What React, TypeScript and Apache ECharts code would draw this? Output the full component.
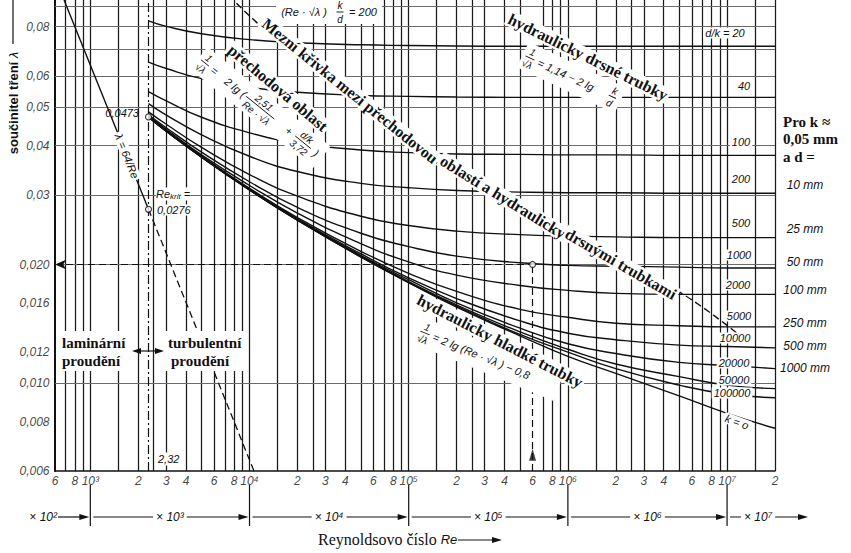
import React, { useEffect, useRef } from 'react';
import * as echarts from 'echarts';

const RE_MIN = 600;
const RE_MAX = 2e7;
const LAMBDA_MIN = 0.006;
const LAMBDA_MAX = 0.0935;

const reSamples = [2320, 3000, 5000, 10000, 20000, 50000, 100000, 200000, 500000, 1000000, 2000000, 5000000, 10000000, 20000000];

// friction factor λ read for each relative roughness d/k
const lambdaDk20 = [0.0828, 0.0802, 0.0768, 0.0742, 0.0729, 0.072, 0.0717, 0.0715, 0.0714, 0.0714, 0.0714, 0.0714, 0.0714, 0.0714];
const lambdaDk40 = [0.0651, 0.0627, 0.0591, 0.0562, 0.0546, 0.0536, 0.0533, 0.0531, 0.053, 0.053, 0.053, 0.053, 0.053, 0.053];
const lambdaDk100 = [0.0548, 0.0519, 0.0472, 0.0431, 0.0406, 0.039, 0.0384, 0.0381, 0.038, 0.0379, 0.0379, 0.0378, 0.0378, 0.0378];
const lambdaDk200 = [0.0511, 0.0478, 0.0426, 0.0376, 0.0344, 0.0321, 0.0313, 0.0308, 0.0305, 0.0304, 0.0304, 0.0303, 0.0303, 0.0303];
const lambdaDk500 = [0.0487, 0.0453, 0.0396, 0.0338, 0.0298, 0.0265, 0.0251, 0.0243, 0.0238, 0.0236, 0.0235, 0.0234, 0.0234, 0.0234];
const lambdaDk1000 = [0.0479, 0.0444, 0.0385, 0.0324, 0.0279, 0.024, 0.0222, 0.021, 0.0202, 0.0199, 0.0198, 0.0197, 0.0196, 0.0196];
const lambdaDk2000 = [0.0475, 0.044, 0.0379, 0.0317, 0.027, 0.0226, 0.0203, 0.0188, 0.0177, 0.0172, 0.0169, 0.0168, 0.0168, 0.0168];
const lambdaDk5000 = [0.0474, 0.0437, 0.0376, 0.0312, 0.0263, 0.0216, 0.019, 0.0171, 0.0154, 0.0147, 0.0142, 0.014, 0.0139, 0.0139];
const lambdaDk10000 = [0.0474, 0.0436, 0.0375, 0.031, 0.0261, 0.0213, 0.0185, 0.0164, 0.0144, 0.0134, 0.0129, 0.0125, 0.0124, 0.0123];
const lambdaDk20000 = [0.0473, 0.0436, 0.0375, 0.031, 0.026, 0.0211, 0.0183, 0.016, 0.0138, 0.0126, 0.0119, 0.0113, 0.0111, 0.0109];
const lambdaDk50000 = [0.0473, 0.0435, 0.0374, 0.0309, 0.0259, 0.021, 0.0181, 0.0158, 0.0135, 0.0122, 0.0112, 0.0104, 0.0099, 0.0097];
const lambdaDk100000 = [0.0473, 0.0435, 0.0374, 0.0309, 0.0259, 0.0209, 0.018, 0.0157, 0.0133, 0.012, 0.0109, 0.0099, 0.0094, 0.0092];
const lambdaSmooth = [0.0473, 0.0435, 0.0374, 0.0309, 0.0259, 0.0209, 0.018, 0.0156, 0.0132, 0.0117, 0.0106, 0.0093, 0.0084, 0.0077];

const curveNames = ['20', '40', '100', '200', '500', '1000', '2000', '5000', '10000', '20000', '50000', '100000', 'k = o'];
const curveValues = [lambdaDk20, lambdaDk40, lambdaDk100, lambdaDk200, lambdaDk500, lambdaDk1000, lambdaDk2000, lambdaDk5000, lambdaDk10000, lambdaDk20000, lambdaDk50000, lambdaDk100000, lambdaSmooth];

// laminar line λ = 64/Re
const laminarRe = [684, 2320];
const laminarLambda = [0.0935, 0.0276];
const laminarDashedRe = [2320, 10667];
const laminarDashedLambda = [0.0276, 0.006];

// limit curve between transition region and rough pipes
const boundaryRe = [8280, 13750, 42560, 139600, 390000, 986000, 2150000, 5060000, 11560000];
const boundaryLambda = [0.0917, 0.0762, 0.0545, 0.037, 0.0295, 0.0238, 0.0201, 0.017, 0.0134];

const criticalRe = 2320;
const readRe = 600000;
const readLambda = 0.02;
const markedPoints = [[2320, 0.0473], [2320, 0.0276], [600000, 0.02]];

// axes
const xTickValues = [600, 800, 1e3, 2e3, 3e3, 4e3, 6e3, 8e3, 1e4, 2e4, 3e4, 4e4, 6e4, 8e4, 1e5, 2e5, 3e5, 4e5, 6e5, 8e5, 1e6, 2e6, 3e6, 4e6, 6e6, 8e6, 1e7, 2e7];
const xTickLabels = ['6', '8', '10³', '2', '3', '4', '6', '8', '10⁴', '2', '3', '4', '6', '8', '10⁵', '2', '3', '4', '6', '8', '10⁶', '2', '3', '4', '6', '8', '10⁷', '2'];
const yTickValues = [0.006, 0.008, 0.01, 0.012, 0.016, 0.02, 0.03, 0.04, 0.05, 0.06, 0.08];
const yTickLabels = ['0,006', '0,008', '0,010', '0,012', '0,016', '0,020', '0,03', '0,04', '0,05', '0,06', '0,08'];
const xGridMultipliers = [1, 1.5, 2, 2.5, 3, 4, 5, 6, 7, 8, 9];
const xGridDecades = [100, 1e3, 1e4, 1e5, 1e6, 1e7];
const yGridValues = [0.007, 0.008, 0.009, 0.01, 0.012, 0.014, 0.016, 0.018, 0.025, 0.03, 0.035, 0.04, 0.05, 0.06, 0.07, 0.08, 0.09];
const decadeMarks = [1e3, 1e4, 1e5, 1e6, 1e7];
const decadeNames = ['× 10²', '× 10³', '× 10⁴', '× 10⁵', '× 10⁶', '× 10⁷'];

// labels at the right
const dkLabelPos = [[725, 33], [744, 86], [741, 142], [741, 179], [741, 223], [739, 255], [738, 285], [739, 316], [735, 338], [734, 363], [734, 380], [732, 393], [737, 422]];
const diameterLabels = ['10 mm', '25 mm', '50 mm', '100 mm', '250 mm', '500 mm', '1000 mm'];
const diameterLabelY = [185, 229, 262, 290, 323, 346, 368];

const SANS = 'Liberation Sans, Arial, Helvetica, sans-serif';
const SERIF = 'Liberation Serif, Times New Roman, serif';
const INK = '#111';

function txt(x: number, y: number, text: string, o: any = {}) {
  const align = o.align ?? 'center';
  const valign = o.valign ?? 'middle';
  return {
    type: 'text', x, y, rotation: o.rot ?? 0, z: o.z ?? 60, silent: true,
    style: {
      text, fill: INK,
      fontFamily: o.family ?? SANS, fontSize: o.size ?? 11,
      fontStyle: o.italic ? 'italic' : 'normal',
      fontWeight: o.bold ? 'bold' : 'normal',
      align, verticalAlign: valign, textAlign: align, textVerticalAlign: valign,
      backgroundColor: o.bg, padding: o.pad, rich: o.rich,
    },
  };
}

function seg(x1: number, y1: number, x2: number, y2: number, w = 1, z = 60) {
  return { type: 'line', z, silent: true, shape: { x1, y1, x2, y2 }, style: { stroke: INK, lineWidth: w } };
}

function tri(points: number[][], z = 61) {
  return { type: 'polygon', z, silent: true, shape: { points }, style: { fill: INK } };
}

function frac(cx: number, num: string, den: string, w: number, size = 10) {
  return [
    txt(cx, -size * 0.62, num, { italic: true, size, z: 62 }),
    seg(cx - w / 2, 0, cx + w / 2, 0, 0.9, 62),
    txt(cx, size * 0.7, den, { italic: true, size, z: 62 }),
  ];
}

function formula(x: number, y: number, rot: number, box: any, children: any[]) {
  const bg = box ? [{ type: 'rect', z: 59, silent: true, shape: box, style: { fill: '#fff' } }] : [];
  return { type: 'group', x, y, rotation: rot, z: 59, children: [...bg, ...children] };
}

function buildGraphic(chart: any) {
  const px = (re: number, l: number) => chart.convertToPixel({ gridIndex: 0 }, [re, l]);
  const els: any[] = [];
  const bold16 = { family: SERIF, bold: true, size: 16, bg: '#fff', pad: [0, 2] };

  // white blocks behind flow-regime labels
  els.push({ type: 'rect', z: 58, silent: true, shape: { x: 58, y: 331, width: 72, height: 40 }, style: { fill: '#fff' } });
  els.push({ type: 'rect', z: 58, silent: true, shape: { x: 165, y: 331, width: 82, height: 40 }, style: { fill: '#fff' } });
  els.push(txt(62, 343, 'laminární', { family: SERIF, bold: true, size: 15, align: 'left' }));
  els.push(txt(62, 361, 'proudění', { family: SERIF, bold: true, size: 15, align: 'left' }));
  els.push(txt(168, 343, 'turbulentní', { family: SERIF, bold: true, size: 15, align: 'left' }));
  els.push(txt(171, 361, 'proudění', { family: SERIF, bold: true, size: 15, align: 'left' }));
  els.push(seg(136, 351, 160, 351, 1.2));
  els.push(tri([[132, 351], [141, 348], [141, 354]]));
  els.push(tri([[164, 351], [155, 348], [155, 354]]));

  // annotations near critical Re
  els.push(txt(139, 113, '0,0473', { italic: true, align: 'right' }));
  els.push(txt(127, 156, 'λ = 64/Re', { italic: true, rot: -1.19, bg: '#fff', pad: [0, 2] }));
  els.push(txt(156, 194, '{a|Re}{b|krit}{a| =}', {
    align: 'left', bg: '#fff',
    rich: { a: { fontFamily: SANS, fontStyle: 'italic', fontSize: 11, fill: INK }, b: { fontFamily: SANS, fontStyle: 'italic', fontSize: 8, fill: INK, padding: [5, 0, 0, 0] } },
  }));
  els.push(txt(157, 210, '0,0276', { italic: true, align: 'left', bg: '#fff' }));
  els.push(txt(156, 459, '2,32', { italic: true, align: 'left', bg: '#fff', pad: [1, 2] }));

  // top formula (Re·√λ) k/d = 200
  els.push({ type: 'rect', z: 58, silent: true, shape: { x: 276, y: 0, width: 106, height: 24 }, style: { fill: '#fff' } });
  els.push(txt(304, 12, '(Re · √λ )', { italic: true }));
  els.push(formula(340, 12, 0, null, frac(0, 'k', 'd', 7)));
  els.push(txt(363, 12, '= 200', { italic: true }));

  // limit curve label
  els.push(txt(350, 91, 'Mezní křivka mezi přechodovou', { ...bold16, rot: -0.68 }));
  els.push(txt(503, 197, 'oblastí a hydraulicky', { ...bold16, rot: -0.55 }));
  els.push(txt(621, 264, 'drsnými trubkami', { ...bold16, rot: -0.525 }));

  // transition region
  els.push(txt(278, 88, 'přechodová oblast', { ...bold16, rot: -0.7 }));
  els.push(formula(205, 63, -0.68, { x: -8, y: -14, width: 158, height: 28 }, [
    ...frac(0, '1', '√λ', 10),
    txt(9, 0, '=', { italic: true, align: 'left', z: 62 }),
    txt(27, 0, '2 lg (', { italic: true, align: 'left', z: 62 }),
    ...frac(71, '2,51', 'Re · √λ', 36),
    txt(108, 0, '+', { italic: true, z: 62 }),
    ...frac(126, 'd/k', '3,72', 20),
    txt(143, 0, ')', { italic: true, z: 62 }),
  ]));

  // rough pipes
  els.push(txt(588, 57, 'hydraulicky drsné trubky', { ...bold16, rot: -0.46 }));
  els.push(formula(530, 58, -0.44, { x: -8, y: -14, width: 108, height: 28 }, [
    ...frac(0, '1', '√λ', 10),
    txt(9, 0, '= 1,14 − 2 lg', { italic: true, align: 'left', z: 62 }),
    ...frac(91, 'k', 'd', 8),
  ]));

  // smooth pipes
  els.push(txt(500, 341, 'hydraulicky hladké trubky', { ...bold16, rot: -0.478 }));
  els.push(formula(425, 333, -0.39, { x: -8, y: -14, width: 152, height: 28 }, [
    ...frac(0, '1', '√λ', 10),
    txt(9, 0, '= 2 lg (Re · √λ ) − 0,8', { italic: true, align: 'left', z: 62 }),
  ]));

  // curve labels d/k
  curveNames.forEach((n, i) => {
    const [x, y] = dkLabelPos[i];
    const label = i === 0 ? 'd/k = ' + n : n;
    els.push(txt(x, y, label, { italic: true, bg: '#fff', pad: [0, 2], rot: i === curveNames.length - 1 ? -0.35 : 0 }));
  });

  // right hand legend
  els.push(txt(783, 122, 'Pro k ≈', { family: SERIF, bold: true, size: 15, align: 'left' }));
  els.push(txt(783, 139, '0,05 mm', { family: SERIF, bold: true, size: 15, align: 'left' }));
  els.push(txt(783, 157, 'a d =', { family: SERIF, bold: true, size: 15, align: 'left' }));
  diameterLabels.forEach((d, i) => {
    els.push(txt(805, diameterLabelY[i], d, { italic: true, size: 12 }));
  });

  // y axis title
  els.push(txt(13, 103, '{a|součinitel tření }{b|λ}', {
    rot: Math.PI / 2,
    rich: { a: { fontFamily: SANS, fontSize: 13, fontWeight: 'bold', fill: INK }, b: { fontFamily: SANS, fontSize: 13, fontStyle: 'italic', fill: INK } },
  }));
  els.push(seg(13, 0, 13, 44, 1.2));

  // decade row under x axis
  const rowY = 517;
  const xs = decadeMarks.map((d) => px(d, LAMBDA_MIN)[0]);
  xs.forEach((x) => els.push(seg(x, 485, x, 526, 1.2)));
  els.push(txt(57, rowY, decadeNames[0], { italic: true, size: 12, align: 'right' }));
  els.push(seg(58, rowY, xs[0] - 8, rowY, 1.2));
  els.push(tri([[xs[0] - 1, rowY], [xs[0] - 11, rowY - 3], [xs[0] - 11, rowY + 3]]));
  for (let i = 0; i < xs.length - 1; i++) {
    const a = xs[i] + 3;
    const b = xs[i + 1] - 1;
    els.push(seg(a, rowY, b - 8, rowY, 1.2));
    els.push(tri([[b, rowY], [b - 10, rowY - 3], [b - 10, rowY + 3]]));
    els.push(txt((xs[i] + xs[i + 1]) / 2, rowY, decadeNames[i + 1], { italic: true, size: 12, bg: '#fff', pad: [0, 3] }));
  }
  const lastX = xs[xs.length - 1];
  els.push(seg(lastX + 3, rowY, 800, rowY, 1.2));
  els.push(tri([[808, rowY], [798, rowY - 3], [798, rowY + 3]]));
  els.push(txt(lastX + 31, rowY, decadeNames[5], { italic: true, size: 12, bg: '#fff', pad: [0, 3] }));

  // x axis title
  els.push(txt(318, 539, '{a|Reynoldsovo číslo }{b|Re}', {
    align: 'left',
    rich: { a: { fontFamily: SERIF, fontSize: 16, fill: INK }, b: { fontFamily: SANS, fontSize: 13, fontStyle: 'italic', fill: INK } },
  }));
  els.push(seg(458, 540, 494, 540, 1.2));
  els.push(tri([[502, 540], [492, 537], [492, 543]]));
  return els;
}

export default function App() {
  const ref = useRef<HTMLDivElement>(null);
  useEffect(() => {
    const chart = echarts.init(ref.current as HTMLDivElement, null, { renderer: 'svg' });
    const xGrid: number[] = [];
    xGridDecades.forEach((d) => xGridMultipliers.forEach((m) => {
      const v = d * m;
      if (v > RE_MIN && v <= RE_MAX && v !== readRe) xGrid.push(v);
    }));
    const gridLines = [
      ...xGrid.map((v) => ({ xAxis: v, lineStyle: { color: '#1a1a1a', width: 1.25, type: 'solid' } })),
      ...yGridValues.map((v) => ({ yAxis: v, lineStyle: { color: '#6a6a6a', width: 1, type: 'solid' } })),
      { xAxis: criticalRe, lineStyle: { color: '#111', width: 1.2, type: [9, 3, 2, 3] } },
    ];
    const curveSeries = curveValues.map((vals, i) => ({
      type: 'line', name: curveNames[i], z: 5, silent: true,
      smooth: 0.5, showSymbol: false, symbol: 'none',
      lineStyle: { color: INK, width: 1.4 },
      data: reSamples.map((r, j) => [r, vals[j]]),
    }));
    const option: any = {
      animation: false,
      backgroundColor: '#fff',
      grid: { left: 55, right: 76, top: -3, bottom: 82, containLabel: false },
      xAxis: {
        type: 'log', logBase: 10, min: RE_MIN, max: RE_MAX,
        axisLine: { show: true, lineStyle: { color: INK, width: 1.6 } },
        axisTick: { show: false }, axisLabel: { show: false }, splitLine: { show: false },
      },
      yAxis: {
        type: 'log', logBase: 10, min: LAMBDA_MIN, max: LAMBDA_MAX,
        axisLine: { show: true, lineStyle: { color: INK, width: 2 } },
        axisTick: { show: false }, axisLabel: { show: false }, splitLine: { show: false },
      },
      series: [
        {
          type: 'line', name: 'grid', z: 1, silent: true, symbol: 'none',
          data: [[RE_MIN, LAMBDA_MIN]], lineStyle: { opacity: 0 },
          markLine: { silent: true, symbol: ['none', 'none'], label: { show: false }, animation: false, data: gridLines },
        },
        ...curveSeries,
        {
          type: 'line', name: 'laminar', z: 5, silent: true, symbol: 'none',
          lineStyle: { color: INK, width: 1.4 },
          data: laminarRe.map((r, i) => [r, laminarLambda[i]]),
        },
        {
          type: 'line', name: 'laminar-ext', z: 5, silent: true, symbol: 'none',
          lineStyle: { color: INK, width: 1.3, type: [7, 4] },
          data: laminarDashedRe.map((r, i) => [r, laminarDashedLambda[i]]),
        },
        {
          type: 'line', name: 'boundary', z: 5, silent: true, symbol: 'none', smooth: 0.4,
          lineStyle: { color: INK, width: 1.4, type: [7, 4] },
          data: boundaryRe.map((r, i) => [r, boundaryLambda[i]]),
        },
        {
          type: 'line', name: 'read', z: 6, silent: true, symbol: 'none',
          data: [[readRe, readLambda]], lineStyle: { opacity: 0 },
          markLine: {
            silent: true, label: { show: false }, animation: false, symbolSize: [7, 11],
            lineStyle: { color: INK, width: 1.2, type: [7, 4] },
            data: [
              [{ coord: [RE_MIN, readLambda], symbol: 'arrow' }, { coord: [readRe, readLambda], symbol: 'none' }],
              [{ coord: [readRe, LAMBDA_MIN], symbol: 'none' }, { coord: [readRe, readLambda], symbol: 'none' }],
            ],
          },
        },
        {
          type: 'scatter', name: 'up-arrow', z: 7, silent: true, symbol: 'triangle', symbolSize: [7, 12],
          itemStyle: { color: INK }, data: [[readRe, 0.0066]],
        },
        {
          type: 'scatter', name: 'points', z: 8, silent: true, symbol: 'circle', symbolSize: 6,
          itemStyle: { color: '#fff', borderColor: INK, borderWidth: 1.2 },
          data: markedPoints,
        },
        {
          type: 'scatter', name: 'xTicks', z: 9, silent: true, clip: false, symbolSize: 1,
          itemStyle: { color: 'rgba(0,0,0,0)' },
          label: { show: true, position: 'bottom', distance: 3, formatter: '{b}', fontFamily: SANS, fontStyle: 'italic', fontSize: 12, color: INK },
          data: xTickValues.map((v, i) => ({ name: xTickLabels[i], value: [v, LAMBDA_MIN] })),
        },
        {
          type: 'scatter', name: 'yTicks', z: 9, silent: true, clip: false, symbolSize: 1,
          itemStyle: { color: 'rgba(0,0,0,0)' },
          label: { show: true, position: 'left', distance: 5, formatter: '{b}', fontFamily: SANS, fontStyle: 'italic', fontSize: 12, color: INK },
          data: yTickValues.map((v, i) => ({ name: yTickLabels[i], value: [RE_MIN, v] })),
        },
      ],
    };
    chart.setOption(option);
    chart.setOption({ graphic: { elements: buildGraphic(chart) } });
    return () => chart.dispose();
  }, []);
  return <div ref={ref} style={{ position: 'fixed', left: 0, top: 0, width: 851, height: 553, background: '#fff' }} />;
}
